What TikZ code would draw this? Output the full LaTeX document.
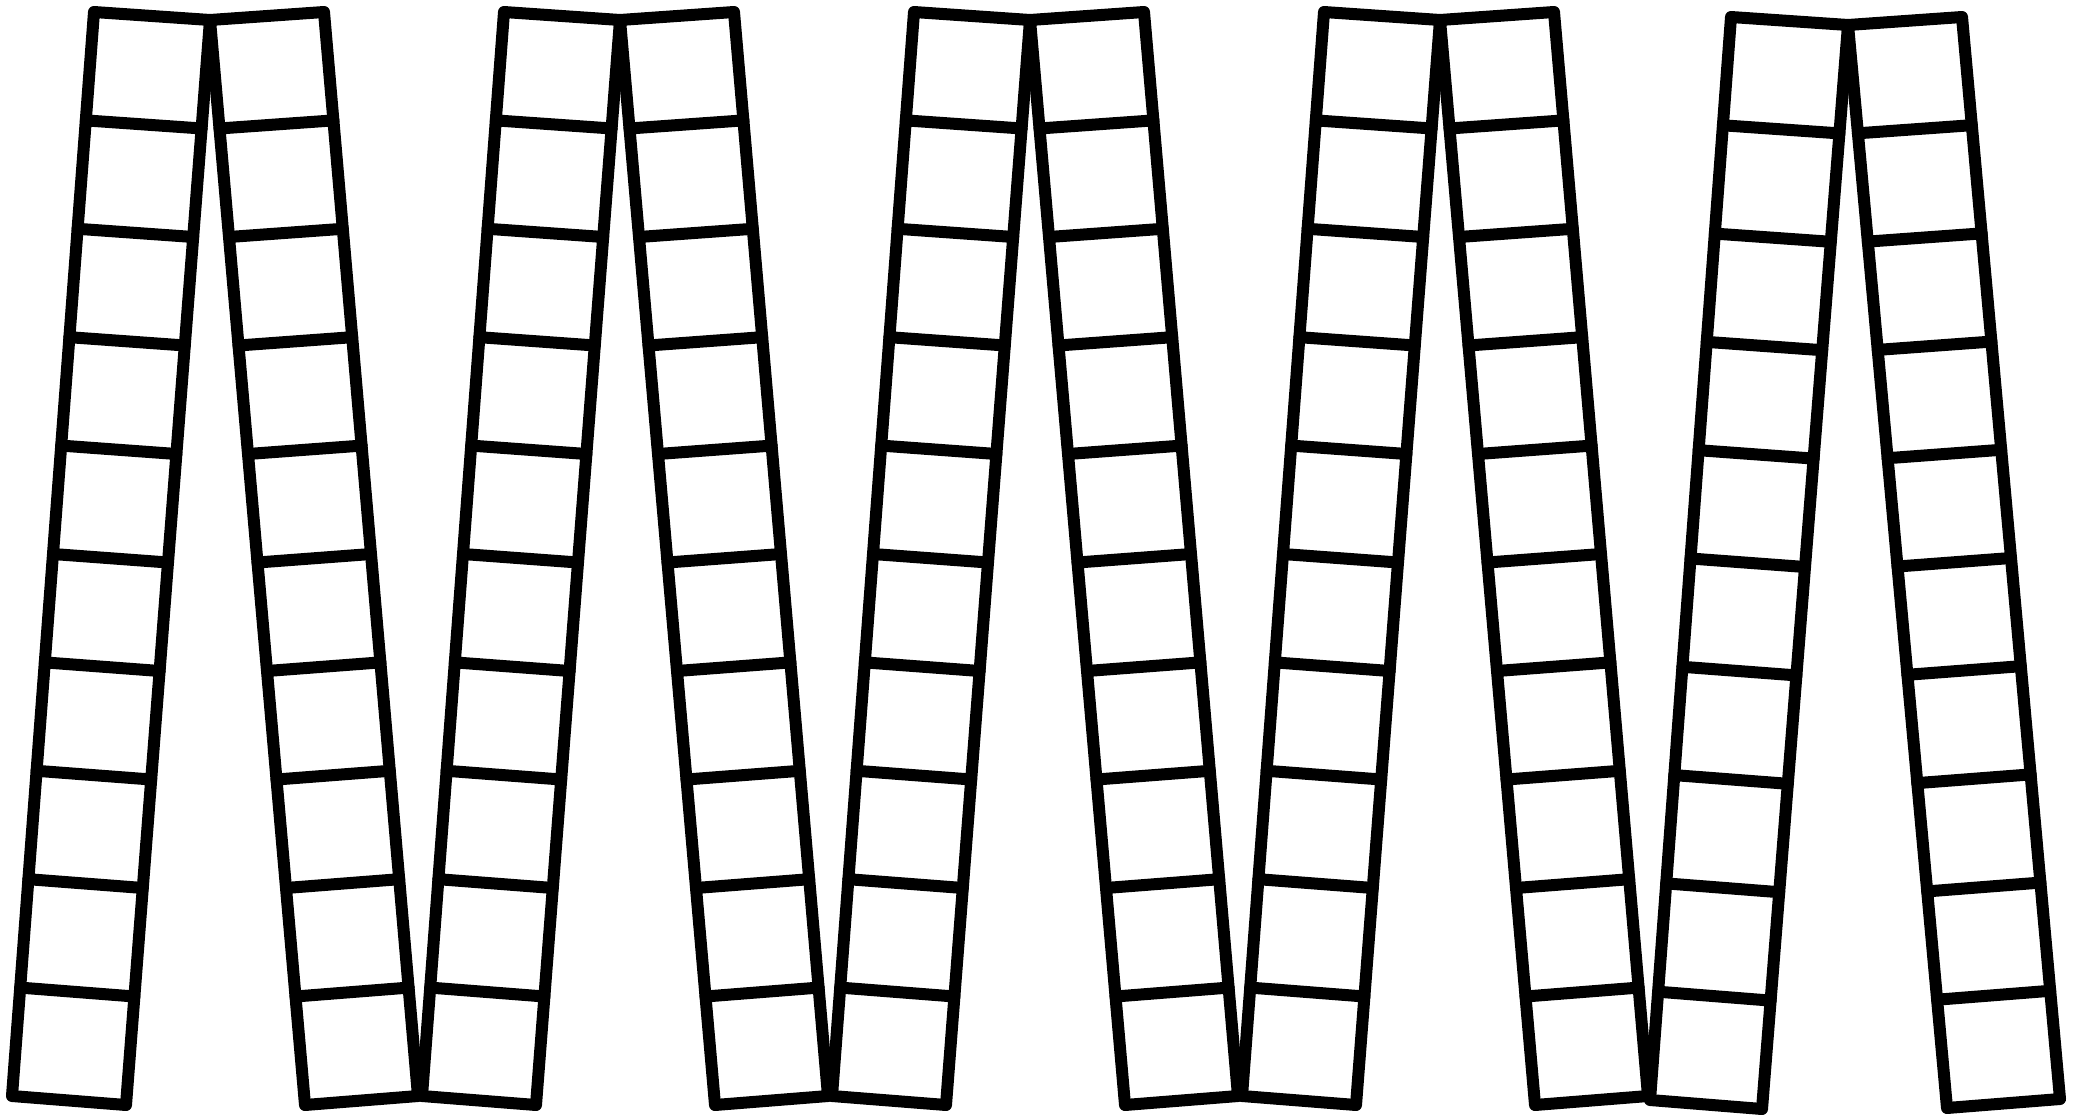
\documentclass[tikz,border=0pt]{standalone}
\usetikzlibrary{calc}
\tikzset{stripline/.style={draw=black, line width=12pt, line join=round, line cap=round}}
\newcommand{\stripq}[8]{%
  \coordinate (tl) at (#1,#2);
  \coordinate (tr) at (#3,#4);
  \coordinate (br) at (#5,#6);
  \coordinate (bl) at (#7,#8);
  \draw[stripline] (tl) -- (tr) -- (br) -- (bl) -- cycle;
  \foreach \k in {1,...,9}{
    \draw[stripline] ($(tl)!\k/10!(bl)$) -- ($(tr)!\k/10!(br)$);
  }
}
\begin{document}
\begin{tikzpicture}[x=1pt,y=-1pt]
\useasboundingbox (0,0) rectangle (2082,1116);
\foreach \o in {0,410,820,1230}{
  \stripq{94+\o}{12}{210+\o}{20}{126+\o}{1105}{12+\o}{1096}
  \stripq{210+\o}{20}{324+\o}{12}{418+\o}{1096}{305+\o}{1105}
}
\stripq{1731}{17}{1848}{25}{1762}{1109}{1650}{1100}
\stripq{1848}{25}{1962}{17}{2060}{1099}{1947}{1108}
\end{tikzpicture}
\end{document}
